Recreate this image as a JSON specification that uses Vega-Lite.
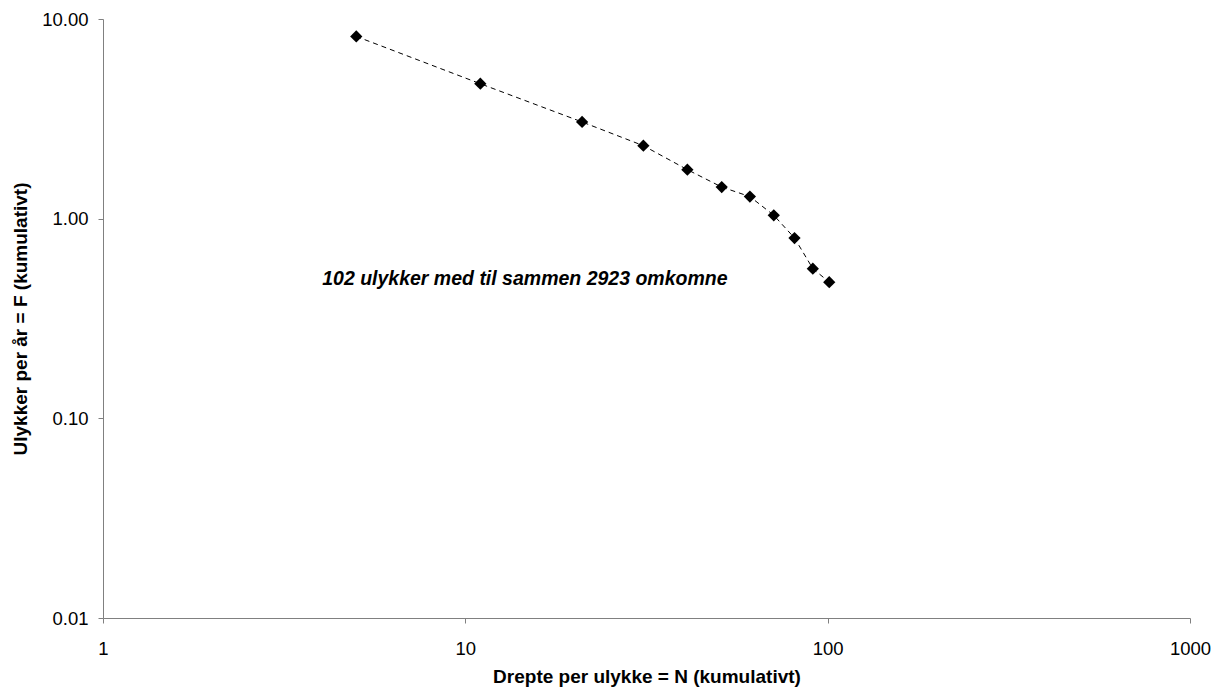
{
  "$schema": "https://vega.github.io/schema/vega-lite/v6.json",
  "width": 1087,
  "height": 599,
  "autosize": {"type": "none"},
  "padding": {"left": 103, "top": 19, "right": 26, "bottom": 73},
  "background": "white",
  "config": {"view": {"stroke": null}, "font": "Liberation Sans"},
  "data": {"values": [
    {"N": 5, "F": 8.18},
    {"N": 11, "F": 4.74},
    {"N": 21, "F": 3.05},
    {"N": 31, "F": 2.32},
    {"N": 41, "F": 1.76},
    {"N": 51, "F": 1.44},
    {"N": 61, "F": 1.29},
    {"N": 71, "F": 1.04},
    {"N": 81, "F": 0.80},
    {"N": 91, "F": 0.562},
    {"N": 101, "F": 0.481}
  ]},
  "encoding": {
    "x": {
      "field": "N", "type": "quantitative",
      "scale": {"type": "log", "domain": [1, 1000], "nice": false},
      "axis": {
        "values": [1, 10, 100, 1000], "format": "d",
        "title": "Drepte per ulykke = N (kumulativt)",
        "grid": false, "labelFlush": false,
        "domainColor": "#808080", "tickColor": "#808080", "tickSize": 5,
        "labelFontSize": 18.5, "labelColor": "black", "labelPadding": 16,
        "titleFontSize": 19, "titleFontWeight": "bold", "titleColor": "black",
        "titleY": 58, "titleBaseline": "middle"
      }
    },
    "y": {
      "field": "F", "type": "quantitative",
      "scale": {"type": "log", "domain": [0.01, 10], "nice": false},
      "axis": {
        "values": [0.01, 0.1, 1, 10], "format": ".2f",
        "title": "Ulykker per år = F (kumulativt)",
        "grid": false, "labelFlush": false,
        "domainColor": "#808080", "tickColor": "#808080", "tickSize": 5,
        "labelFontSize": 18.5, "labelColor": "black", "labelPadding": 10,
        "titleFontSize": 19, "titleFontWeight": "bold", "titleColor": "black",
        "titleX": -83, "titleBaseline": "middle"
      }
    }
  },
  "layer": [
    {"mark": {"type": "line", "color": "black", "strokeWidth": 1, "strokeDash": [5, 4]}},
    {"mark": {"type": "point", "shape": "diamond", "filled": true, "color": "black", "size": 150, "opacity": 1}},
    {
      "data": {"values": [{"N": 14.6, "F": 0.5, "label": "102 ulykker med til sammen 2923 omkomne"}]},
      "mark": {"type": "text", "fontSize": 19.5, "fontWeight": "bold", "fontStyle": "italic", "align": "center", "baseline": "middle", "color": "black"},
      "encoding": {"text": {"field": "label"}}
    }
  ]
}
